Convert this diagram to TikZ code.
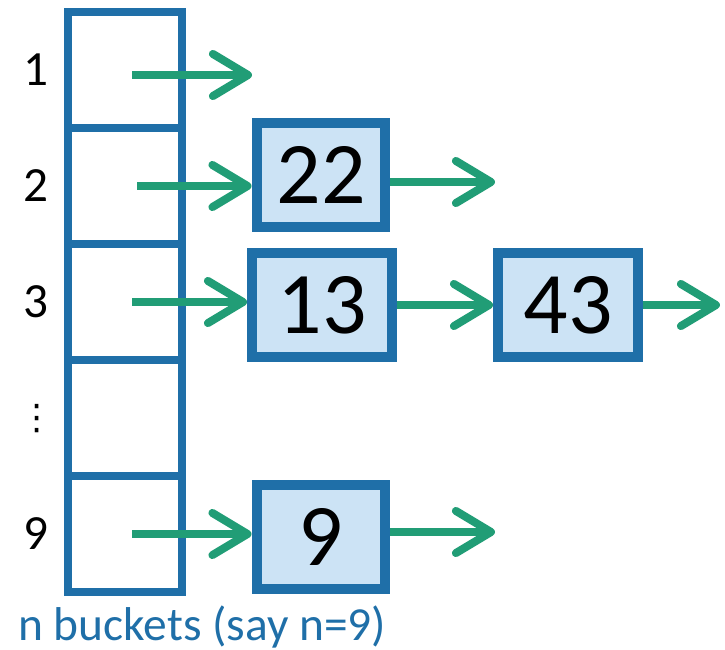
\documentclass[tikz,border=0pt]{standalone}
\usepackage{fontspec}
\setmainfont{Carlito}
\newfontfamily\symfont{DejaVu Sans}
\usetikzlibrary{arrows.meta}
\definecolor{bucketblue}{RGB}{31,111,168}
\definecolor{cellfill}{RGB}{204,227,245}
\definecolor{linkgreen}{RGB}{33,157,118}

\begin{document}
\begin{tikzpicture}[x=0.02cm, y=-0.02cm, node distance=2.32cm,
    bucket/.style={draw=bucketblue, line width=0.16cm, minimum width=2.29cm, minimum height=2.32cm, inner sep=0pt, outer sep=0pt},
    item/.style={draw=bucketblue, fill=cellfill, line width=0.2cm, minimum width=2.58cm, minimum height=2.1cm, inner sep=0pt, font=\fontsize{50}{50}\selectfont},
    wideitem/.style={item, minimum width=2.8cm},
    idx/.style={font=\fontsize{28}{28}\selectfont},
    link/.style={draw=linkgreen, line width=0.16cm, -{Straight Barb[length=20pt, width=24pt, round]}}]
    \useasboundingbox (0,0) rectangle (725,650);

    % the bucket array
    \node[bucket] (b1) at (125,70) {};
    \node[bucket, below of=b1] (b2) {};
    \node[bucket, below of=b2] (b3) {};
    \node[bucket, below of=b3] (b4) {};
    \node[bucket, below of=b4] (b9) {};

    \node[idx] (i1) at (36,70) {1};
    \node[idx] (i2) at (36,186) {2};
    \node[idx] (i3) at (36,302) {3};
    \node[font=\symfont\fontsize{20}{20}\selectfont] (i4) at (37,419) {⋮};
    \node[idx] (i9) at (36,534) {9};

    % chained entries
    \node[item] (v22) at (321,175) {22};
    \node[wideitem] (v13) at (322,305) {13};
    \node[wideitem] (v43) at (568,305) {43};
    \node[item] (v9) at (321,537) {9};

    \node[anchor=west, inner sep=0pt, text=bucketblue, font=\fontsize{27}{27}\selectfont] (cap) at (18,627) {n buckets (say n=9)};

    % pointers
    \coordinate (s1) at (132,75);
    \coordinate (e1) at (252,75);
    \coordinate (s2) at (137,186);
    \coordinate (s3) at (132,302);
    \coordinate (s9) at (132,534);
    \coordinate (e22) at (495,182);
    \coordinate (e43) at (720,305);
    \coordinate (e9) at (495,532);

    \draw[link] (s1) -- (e1);
    \draw[link] (s2) -- (v22.west |- s2);
    \draw[link] (v22.east |- e22) -- (e22);
    \draw[link] (s3) -- (v13.west |- s3);
    \draw[link] (v13) -- (v43);
    \draw[link] (v43) -- (e43);
    \draw[link] (s9) -- (v9.west |- s9);
    \draw[link] (v9.east |- e9) -- (e9);
\end{tikzpicture}
\end{document}
